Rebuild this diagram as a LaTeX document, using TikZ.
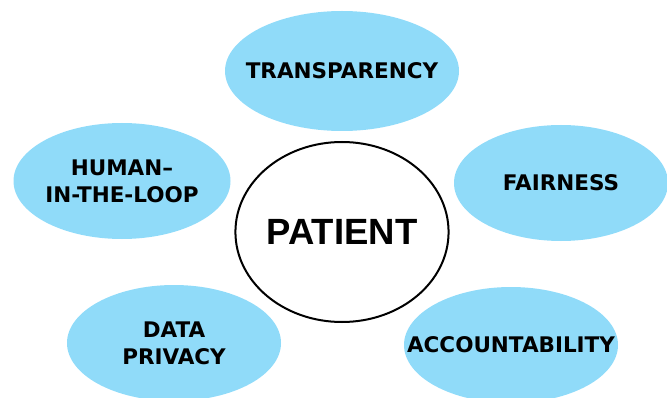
\documentclass[tikz,border=0pt]{standalone}
\usepackage{fontspec}
\setmainfont{DejaVu Sans}
\newfontfamily\patientfont{Liberation Sans}
\usetikzlibrary{shapes.geometric}

\definecolor{PillarBlue}{HTML}{90DBF9}

\begin{document}
\begin{tikzpicture}[x=1pt,y=1pt,
  pillar/.style={ellipse, fill=PillarBlue, draw=none, inner sep=0pt,
    minimum width=214pt, minimum height=116pt},
  pillartext/.style={align=center, inner sep=0pt,
    font=\fontsize{21.5}{27}\selectfont\bfseries},
  core/.style={ellipse, fill=white, draw=black, line width=2pt, inner sep=0pt,
    minimum width=205pt, minimum height=180pt,
    font=\patientfont\fontsize{36.5}{40}\selectfont\bfseries}]

 %%%%%%%%%% Page frame %%%%%%%%%%
 \useasboundingbox (0,0) rectangle (667,397);
 \clip (0,0) rectangle (667,397);

 %%%%%%%%%% Centres %%%%%%%%%%
 \coordinate (top) at (342,326);
 \coordinate (left) at (122,216);
 \coordinate (right) at (561,214);
 \coordinate (mid) at (342,165);
 \coordinate (lowleft) at (174,54);
 \coordinate (lowright) at (511,52);

 % Values around the patient
 \node[pillar, minimum width=234pt, minimum height=120pt] (transparency) at (top) {};
 \node[pillar, minimum width=217pt] (human) at (left) {};
 \node[pillar] (fairness) at (right) {};
 \node[pillar] (privacy) at (lowleft) {};
 \node[pillar] (accountability) at (lowright) {};

 \node[pillartext] (transparencytext) at (transparency) {TRANSPARENCY};
 \node[pillartext] (humantext) at (human) {HUMAN–\\IN-THE-LOOP};
 \node[pillartext] (fairnesstext) at (fairness) {FAIRNESS};
 \node[pillartext] (privacytext) at (privacy) {DATA\\PRIVACY};
 \node[pillartext] (accountabilitytext) at (accountability) {ACCOUNTABILITY};

 % Patient in the middle
 \node[core] (patient) at (mid) {PATIENT};

\end{tikzpicture}
\end{document}
